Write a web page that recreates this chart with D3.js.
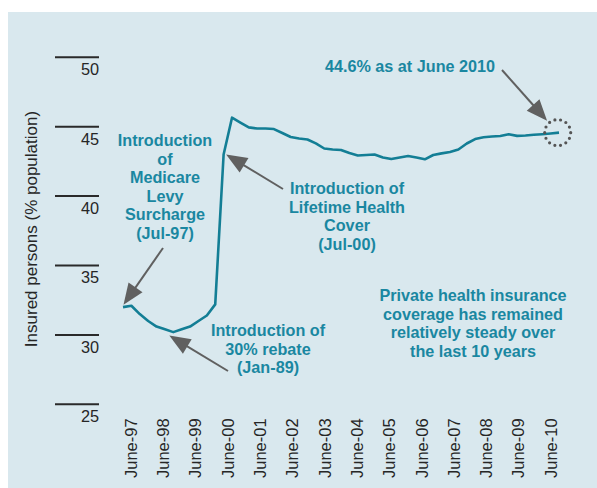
<!DOCTYPE html>
<html>
<head>
<meta charset="utf-8">
<script src="https://cdn.jsdelivr.net/npm/d3@7"></script>
<style>
  html, body { margin: 0; padding: 0; background: #ffffff; }
  svg { display: block; }
</style>
</head>
<body>
<svg id="chart" width="597" height="488"></svg>
<script>
// ---- data ----
const quarters = [
  "Jun-97","Sep-97","Dec-97","Mar-98","Jun-98","Sep-98","Dec-98","Mar-99","Jun-99","Sep-99","Dec-99","Mar-00",
  "Jun-00","Sep-00","Dec-00","Mar-01","Jun-01","Sep-01","Dec-01","Mar-02","Jun-02","Sep-02","Dec-02","Mar-03",
  "Jun-03","Sep-03","Dec-03","Mar-04","Jun-04","Sep-04","Dec-04","Mar-05","Jun-05","Sep-05","Dec-05","Mar-06",
  "Jun-06","Sep-06","Dec-06","Mar-07","Jun-07","Sep-07","Dec-07","Mar-08","Jun-08","Sep-08","Dec-08","Mar-09",
  "Jun-09","Sep-09","Dec-09","Mar-10","Jun-10"
];
const insured = [
  32.0, 32.1, 31.5, 31.0, 30.6, 30.4, 30.2, 30.4, 30.6, 31.0, 31.4, 32.2,
  43.0, 45.65, 45.3, 44.95, 44.87, 44.87, 44.83, 44.55, 44.26, 44.15, 44.08, 43.8,
  43.43, 43.36, 43.32, 43.1, 42.93, 42.96, 43.0, 42.78, 42.67, 42.78, 42.89, 42.78,
  42.65, 42.96, 43.08, 43.18, 43.36, 43.79, 44.11, 44.24, 44.29, 44.33, 44.45, 44.34,
  44.37, 44.42, 44.46, 44.51, 44.57
];
const yearLabels = ["June-97","June-98","June-99","June-00","June-01","June-02","June-03",
  "June-04","June-05","June-06","June-07","June-08","June-09","June-10"];
const yTicks = [25, 30, 35, 40, 45, 50];
const yTitle = "Insured persons (% population)";

const notes = [
  { lines: ["Introduction", "of", "Medicare", "Levy", "Surcharge", "(Jul-97)"], x: 165, y: 146,
    from: [163, 248], at: "Jun-97", off: [0.5, -2.5] },
  { lines: ["Introduction of", "Lifetime Health", "Cover", "(Jul-00)"], x: 347, y: 194,
    from: [283, 189], at: "Jun-00", off: [2.5, 0] },
  { lines: ["Introduction of", "30% rebate", "(Jan-89)"], x: 268, y: 336,
    from: [228, 371], at: "Dec-98", off: [-4, 3.5] },
  { lines: ["Private health insurance", "coverage has remained", "relatively steady over", "the last 10 years"], x: 473, y: 301 }
];
const endNote = { text: "44.6% as at June 2010", x: 410, y: 72, from: [502, 70] };

// ---- setup ----
const FONT = "'Liberation Sans', Arial, Helvetica, sans-serif";
const TEAL_LINE = "#137e95";
const TEAL_TEXT = "#1a87a1";
const GREY = "#606060";

const svg = d3.select("#chart");
svg.append("rect").attr("x", 8).attr("y", 12).attr("width", 589).attr("height", 476).attr("fill", "#d9e8ee");

const x = d3.scalePoint().domain(quarters).range([123, 559]);
const xLab = d3.scalePoint().domain(yearLabels).range([131, 551]);
const y = d3.scaleLinear().domain([25, 50]).range([404.3, 57.3]);

// y ticks
const yg = svg.append("g");
yg.selectAll("line").data(yTicks).join("line")
  .attr("x1", 55).attr("x2", 99)
  .attr("y1", d => y(d)).attr("y2", d => y(d))
  .attr("stroke", "#2a2a2a").attr("stroke-width", 2);
yg.selectAll("text").data(yTicks).join("text")
  .attr("x", 99).attr("y", d => y(d) + 17.8)
  .attr("text-anchor", "end")
  .attr("font-family", FONT).attr("font-size", 16.3).attr("fill", "#262626")
  .text(d => d);

// y title
svg.append("text")
  .attr("transform", "translate(37,229) rotate(-90)")
  .attr("text-anchor", "middle")
  .attr("font-family", FONT).attr("font-size", 17).attr("fill", "#262626")
  .text(yTitle);

// x labels
svg.append("g").selectAll("text").data(yearLabels).join("text")
  .attr("transform", d => `translate(${xLab(d)},478) rotate(-90)`)
  .attr("dy", "0.35em")
  .attr("text-anchor", "start")
  .attr("font-family", FONT).attr("font-size", 16.5).attr("fill", "#262626")
  .text(d => d);

// line
const line = d3.line().x((d, i) => x(quarters[i])).y(d => y(d));
svg.append("path").datum(insured)
  .attr("d", line)
  .attr("fill", "none").attr("stroke", TEAL_LINE).attr("stroke-width", 2.6)
  .attr("stroke-linejoin", "round");

// arrows
function arrow(x1, y1, x2, y2) {
  const dx = x2 - x1, dy = y2 - y1, L = Math.hypot(dx, dy);
  const ux = dx / L, uy = dy / L;
  const hl = 21, hw = 8.5;
  const bx = x2 - ux * hl, by = y2 - uy * hl;
  svg.append("line").attr("x1", x1).attr("y1", y1).attr("x2", bx + ux * 2).attr("y2", by + uy * 2)
    .attr("stroke", GREY).attr("stroke-width", 2);
  svg.append("path")
    .attr("d", `M${x2},${y2}L${bx - uy * hw},${by + ux * hw}L${bx + uy * hw},${by - ux * hw}Z`)
    .attr("fill", GREY);
}

notes.forEach(n => {
  const t = svg.append("text")
    .attr("text-anchor", "middle")
    .attr("font-family", FONT).attr("font-size", 16.2).attr("font-weight", "bold")
    .attr("fill", TEAL_TEXT);
  n.lines.forEach((s, i) => {
    t.append("tspan").attr("x", n.x).attr("y", n.y + i * 18.5).text(s);
  });
  if (n.from) {
    const idx = quarters.indexOf(n.at);
    arrow(n.from[0], n.from[1], x(n.at) + n.off[0], y(insured[idx]) + n.off[1]);
  }
});

// end annotation
const last = quarters.length - 1;
const cx = x(quarters[last]) - 1.3, cy = y(insured[last]);
svg.append("circle").attr("cx", cx).attr("cy", cy).attr("r", 13)
  .attr("fill", "none").attr("stroke", "#555").attr("stroke-width", 3.2)
  .attr("stroke-linecap", "round").attr("stroke-dasharray", "0 5.8");
svg.append("text")
  .attr("x", endNote.x).attr("y", endNote.y)
  .attr("text-anchor", "middle")
  .attr("font-family", FONT).attr("font-size", 16.2).attr("font-weight", "bold")
  .attr("fill", TEAL_TEXT)
  .text(endNote.text);
{
  const dx = endNote.from[0] - cx, dy = endNote.from[1] - cy, L = Math.hypot(dx, dy);
  arrow(endNote.from[0], endNote.from[1], cx + dx / L * 16, cy + dy / L * 16);
}
</script>
</body>
</html>
